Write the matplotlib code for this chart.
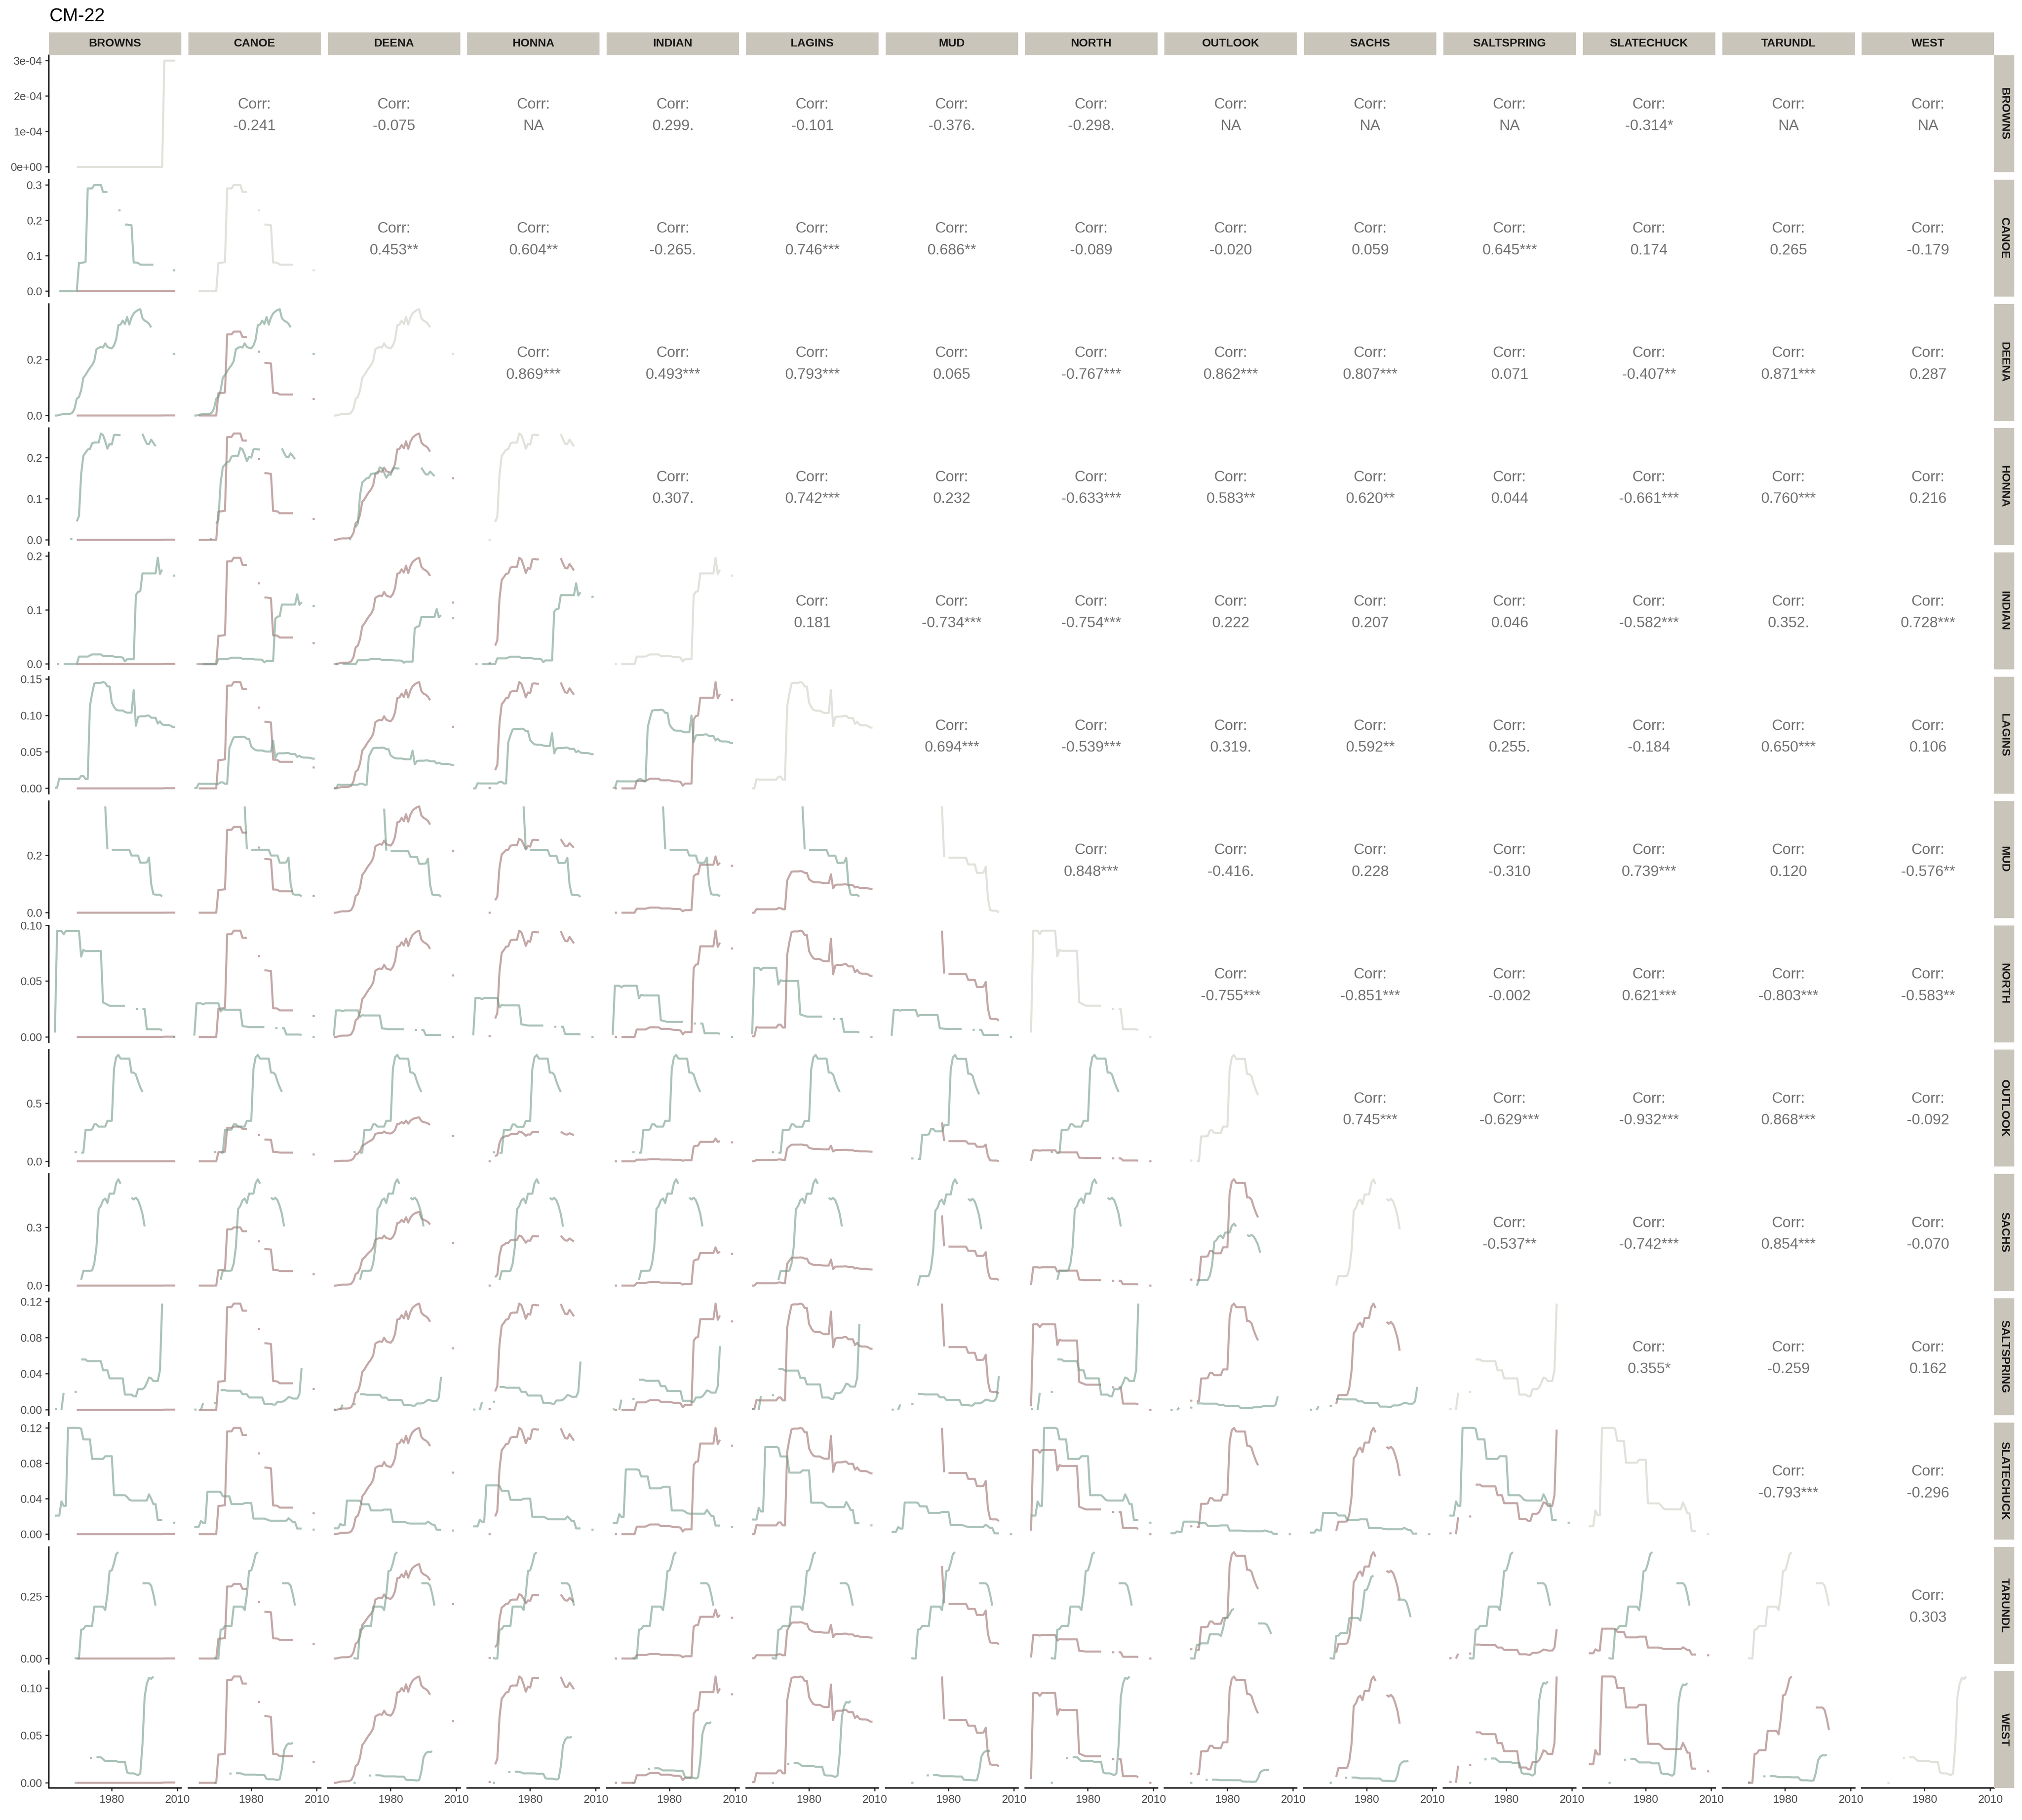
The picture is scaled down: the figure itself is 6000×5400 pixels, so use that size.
import numpy as np
import matplotlib
matplotlib.use("Agg")
import matplotlib.pyplot as plt
from matplotlib.patches import Rectangle

plt.rcParams['font.family'] = ['Liberation Sans', 'DejaVu Sans']

nan = np.nan
years = list(range(1954, 2010))
names = ["BROWNS", "CANOE", "DEENA", "HONNA", "INDIAN", "LAGINS", "MUD", "NORTH",
         "OUTLOOK", "SACHS", "SALTSPRING", "SLATECHUCK", "TARUNDL", "WEST"]

BROWNS = [nan, nan, nan, nan, nan, nan, nan, nan, nan, nan,
          0, 0, 0, 0, 0, 0, 0, 0, 0, 0,
          0, 0, 0, 0, 0, 0, 0, 0, 0, 0,
          0, 0, 0, 0, 0, 0, 0, 0, 0, 0,
          0, 0, 0, 0, 0, 0, 0, 0, 0, 0,
          3e-4, 3e-4, 3e-4, 3e-4, 3e-4, 3e-4]
CANOE = [nan, nan, 0, 0, 0, 0, 0, 0, 0, 0,
         0, 0.08, 0.08, 0.081, 0.082, 0.29, 0.29, 0.29, 0.30, 0.30,
         0.30, 0.30, 0.28, 0.28, 0.28, nan, nan, nan, nan, 0.228,
         0.228, nan, 0.188, 0.188, 0.187, 0.186, 0.081, 0.081, 0.08, 0.075,
         0.075, 0.075, 0.075, 0.075, 0.075, 0.075, nan, nan, nan, nan,
         nan, nan, nan, nan, 0.059, 0.059]
DEENA = [0.0, 0.0, 0.002, 0.004, 0.005, 0.005, 0.005, 0.006, 0.01, 0.025,
         0.06, 0.066, 0.09, 0.135, 0.145, 0.158, 0.17, 0.18, 0.195, 0.237,
         0.242, 0.245, 0.243, 0.258, 0.245, 0.242, 0.24, 0.25, 0.272, 0.323,
         0.325, 0.339, 0.327, 0.352, 0.325, 0.35, 0.365, 0.372, 0.377, 0.38,
         0.348, 0.339, 0.335, 0.328, 0.315, nan, nan, nan, nan, nan,
         nan, nan, nan, nan, 0.22, 0.22]
HONNA = [nan, nan, nan, nan, nan, nan, nan, 0.002, 0.002, nan,
         0.045, 0.058, 0.16, 0.205, 0.212, 0.22, 0.221, 0.235, 0.237, 0.237,
         0.237, 0.259, 0.255, 0.24, 0.222, 0.234, 0.232, 0.255, 0.256, 0.255,
         0.255, nan, nan, nan, nan, nan, nan, nan, nan, nan,
         0.258, 0.245, 0.234, 0.233, 0.244, 0.236, 0.228, nan, nan, nan,
         nan, nan, nan, nan, nan, nan]
INDIAN = [nan, 0.0, 0.0, nan, 0.0, 0.0, 0.0, 0.0, 0.0, 0.0,
          0.0, 0.014, 0.014, 0.014, 0.014, 0.014, 0.016, 0.018, 0.018, 0.018,
          0.018, 0.018, 0.015, 0.015, 0.015, 0.015, 0.015, 0.014, 0.013, 0.013,
          0.013, 0.012, 0.005, 0.009, 0.009, 0.009, 0.009, 0.128, 0.134, 0.135,
          0.168, 0.168, 0.168, 0.168, 0.168, 0.168, 0.168, 0.197, 0.167, 0.175,
          nan, nan, nan, nan, 0.164, 0.164]
LAGINS = [0.001, 0.001, 0.0136, 0.013, 0.013, 0.013, 0.013, 0.013, 0.013, 0.013,
          0.013, 0.013, 0.017, 0.017, 0.013, 0.013, 0.113, 0.13, 0.144, 0.145,
          0.145, 0.145, 0.146, 0.145, 0.14, 0.14, 0.118, 0.112, 0.108, 0.107,
          0.107, 0.107, 0.105, 0.104, 0.104, 0.104, 0.135, 0.086, 0.098, 0.099,
          0.099, 0.099, 0.1, 0.1, 0.097, 0.097, 0.097, 0.089, 0.092, 0.088,
          0.087, 0.087, 0.087, 0.086, 0.084, 0.084]
MUD = [nan, nan, nan, nan, nan, nan, nan, nan, nan, nan,
       nan, nan, nan, nan, nan, nan, nan, nan, nan, nan,
       nan, nan, nan, 0.372, 0.222, nan, 0.22, 0.22, 0.22, 0.22,
       0.22, 0.22, 0.22, 0.22, 0.22, 0.2, 0.2, 0.2, 0.2, 0.175,
       0.175, 0.175, 0.176, 0.193, 0.1, 0.065, 0.063, 0.063, 0.063, 0.057,
       nan, nan, nan, nan, nan, nan]
NORTH = [0.004, 0.095, 0.095, 0.095, 0.092, 0.095, 0.095, 0.095, 0.095, 0.095,
         0.095, 0.095, 0.072, 0.078, 0.077, 0.077, 0.077, 0.077, 0.077, 0.077,
         0.077, 0.077, 0.031, 0.030, 0.029, 0.028, 0.028, 0.028, 0.028, 0.028,
         0.028, 0.028, 0.028, nan, nan, nan, nan, 0.025, 0.025, nan,
         0.025, 0.025, 0.007, 0.007, 0.007, 0.007, 0.007, 0.007, 0.007, 0.006,
         nan, nan, nan, nan, 0.0, 0.0]
OUTLOOK = [nan, nan, nan, nan, nan, nan, nan, nan, nan, 0.08,
           0.08, nan, 0.074, 0.075, 0.272, 0.272, 0.272, 0.275, 0.32, 0.32,
           0.3, 0.3, 0.3, 0.3, 0.35, 0.35, 0.35, 0.80, 0.9, 0.919,
           0.888, 0.888, 0.888, 0.888, 0.888, 0.767, 0.767, 0.75, 0.69, 0.64,
           0.6, nan, nan, nan, nan, nan, nan, nan, nan, nan,
           nan, nan, nan, nan, nan, nan]
SACHS = [nan, nan, nan, nan, nan, nan, nan, nan, nan, nan,
         nan, nan, 0.03, 0.076, 0.076, 0.076, 0.076, 0.078, 0.114, 0.2,
         0.395, 0.41, 0.44, 0.449, 0.426, 0.474, 0.474, 0.474, 0.528, 0.548,
         0.525, nan, nan, nan, nan, 0.453, 0.444, 0.453, 0.44, 0.41,
         0.37, 0.305, nan, nan, nan, nan, nan, nan, nan, nan,
         nan, nan, nan, nan, nan, nan]
SALTSPRING = [0.001, 0.001, nan, 0.0, 0.019, nan, nan, nan, nan, 0.02,
              0.02, nan, 0.056, 0.056, 0.056, 0.054, 0.054, 0.054, 0.054, 0.054,
              0.054, 0.054, 0.044, 0.044, 0.044, 0.035, 0.035, 0.035, 0.035, 0.035,
              0.035, 0.035, 0.017, 0.017, 0.017, 0.017, 0.015, 0.015, 0.023, 0.023,
              0.023, 0.025, 0.03, 0.036, 0.035, 0.032, 0.032, 0.032, 0.044, 0.118,
              nan, nan, nan, nan, nan, nan]
SLATECHUCK = [0.021, 0.021, 0.021, 0.037, 0.032, 0.032, 0.12, 0.12, 0.12, 0.12,
              0.12, 0.12, 0.119, 0.107, 0.107, 0.107, 0.107, 0.085, 0.085, 0.085,
              0.085, 0.085, 0.085, 0.088, 0.088, 0.088, 0.088, 0.044, 0.044, 0.044,
              0.044, 0.044, 0.044, 0.042, 0.039, 0.038, 0.038, 0.038, 0.038, 0.038,
              0.038, 0.038, 0.038, 0.045, 0.04, 0.034, 0.034, 0.016, 0.016, 0.016,
              nan, nan, nan, nan, 0.013, 0.013]
TARUNDL = [nan, nan, nan, nan, nan, nan, nan, nan, nan, 0.002,
           0.0, 0.0, 0.116, 0.118, 0.131, 0.131, 0.131, 0.131, 0.209, 0.209,
           0.209, 0.209, 0.209, 0.195, 0.258, 0.352, 0.355, 0.383, 0.42, 0.428,
           nan, nan, nan, nan, nan, nan, nan, nan, nan, nan,
           0.303, 0.303, 0.303, 0.303, 0.293, 0.258, 0.213, nan, nan, nan,
           nan, nan, nan, nan, nan, nan]
WEST = [nan, nan, nan, nan, nan, nan, nan, nan, nan, 0.0,
        0.0, nan, nan, nan, nan, nan, 0.026, 0.026, nan, 0.027,
        0.027, 0.027, 0.025, 0.023, 0.023, 0.023, 0.023, 0.023, 0.023, 0.022,
        0.022, 0.022, 0.022, 0.011, 0.010, 0.010, 0.010, 0.009, 0.008, 0.01,
        0.04, 0.091, 0.105, 0.111, 0.11, 0.1125, nan, nan, nan, nan,
        nan, nan, nan, nan, nan, nan]

series_list = [BROWNS, CANOE, DEENA, HONNA, INDIAN, LAGINS, MUD, NORTH,
               OUTLOOK, SACHS, SALTSPRING, SLATECHUCK, TARUNDL, WEST]

# correlation labels, upper triangle (row i, columns i+1 .. 13)
corr_rows = [
    ["-0.241", "-0.075", "NA", "0.299.", "-0.101", "-0.376.", "-0.298.", "NA", "NA", "NA", "-0.314*", "NA", "NA"],
    ["0.453**", "0.604**", "-0.265.", "0.746***", "0.686**", "-0.089", "-0.020", "0.059", "0.645***", "0.174", "0.265", "-0.179"],
    ["0.869***", "0.493***", "0.793***", "0.065", "-0.767***", "0.862***", "0.807***", "0.071", "-0.407**", "0.871***", "0.287"],
    ["0.307.", "0.742***", "0.232", "-0.633***", "0.583**", "0.620**", "0.044", "-0.661***", "0.760***", "0.216"],
    ["0.181", "-0.734***", "-0.754***", "0.222", "0.207", "0.046", "-0.582***", "0.352.", "0.728***"],
    ["0.694***", "-0.539***", "0.319.", "0.592**", "0.255.", "-0.184", "0.650***", "0.106"],
    ["0.848***", "-0.416.", "0.228", "-0.310", "0.739***", "0.120", "-0.576**"],
    ["-0.755***", "-0.851***", "-0.002", "0.621***", "-0.803***", "-0.583**"],
    ["0.745***", "-0.629***", "-0.932***", "0.868***", "-0.092"],
    ["-0.537**", "-0.742***", "0.854***", "-0.070"],
    ["0.355*", "-0.259", "0.162"],
    ["-0.793***", "-0.296"],
    ["0.303"],
]

ytick_values = [[0, 1e-4, 2e-4, 3e-4], [0, 0.1, 0.2, 0.3], [0, 0.2], [0, 0.1, 0.2],
                [0, 0.1, 0.2], [0, 0.05, 0.10, 0.15], [0, 0.2], [0, 0.05, 0.10],
                [0, 0.5], [0, 0.3], [0, 0.04, 0.08, 0.12], [0, 0.04, 0.08, 0.12],
                [0, 0.25], [0, 0.05, 0.10]]
ytick_labels = [["0e+00", "1e-04", "2e-04", "3e-04"], ["0.0", "0.1", "0.2", "0.3"], ["0.0", "0.2"],
                ["0.0", "0.1", "0.2"], ["0.0", "0.1", "0.2"], ["0.00", "0.05", "0.10", "0.15"],
                ["0.0", "0.2"], ["0.00", "0.05", "0.10"], ["0.0", "0.5"], ["0.0", "0.3"],
                ["0.00", "0.04", "0.08", "0.12"], ["0.00", "0.04", "0.08", "0.12"],
                ["0.00", "0.25"], ["0.00", "0.05", "0.10"]]
xtick_values = [1980, 2010]
xtick_labels = ["1980", "2010"]

# ---------------- styling ----------------
COL_ROW = '#739B8A'
COL_COL = '#9E6E6E'
COL_DIAG = '#E2E1DB'
STRIP = '#C9C5BA'
TXT_CORR = '#737373'
LW = 1.45

FW, FH = 6000, 5400
L0, PW, PX = 145.0, 393.0, 413.8
T0, PH, PY = 164.0, 347.0, 368.8
n = len(names)

fig = plt.figure(figsize=(20, 18), dpi=300)
yr = np.array(years, dtype=float)
data = [np.array(s, dtype=float) for s in series_list]


def rng(*arrs):
    v = np.concatenate([a[~np.isnan(a)] for a in arrs])
    lo, hi = v.min(), v.max()
    pad = (hi - lo) * 0.05
    return lo - pad, hi + pad


xlo = min(years) - (max(years) - min(years)) * 0.05
xhi = max(years) + (max(years) - min(years)) * 0.05

for i in range(n):
    for j in range(n):
        x0 = L0 + j * PX
        y0 = T0 + i * PY
        ax = fig.add_axes([x0 / FW, 1 - (y0 + PH) / FH, PW / FW, PH / FH])
        ax.set_xlim(xlo, xhi)
        for s in ax.spines.values():
            s.set_visible(False)
        ax.patch.set_alpha(0)
        if i == j:
            ax.plot(yr, data[i], color=COL_DIAG, lw=LW, solid_capstyle='butt',
                    solid_joinstyle='round')
            ax.set_ylim(*rng(data[i]))
        elif i > j:
            ax.plot(yr, data[j], color=COL_COL, lw=LW, alpha=0.6,
                    solid_capstyle='butt', solid_joinstyle='round')
            ax.plot(yr, data[i], color=COL_ROW, lw=LW, alpha=0.6,
                    solid_capstyle='butt', solid_joinstyle='round')
            ax.set_ylim(*rng(data[i], data[j]))
        else:
            lab = corr_rows[i][j - i - 1]
            ax.set_ylim(0, 1)
            ax.text(0.5, 0.546, "Corr:", ha='center', va='baseline',
                    fontsize=10.7, color=TXT_CORR, transform=ax.transAxes)
            ax.text(0.5, 0.36, lab, ha='center', va='baseline',
                    fontsize=10.7, color=TXT_CORR, transform=ax.transAxes)
        # axes
        if j == 0:
            ax.spines['left'].set_visible(True)
            ax.spines['left'].set_linewidth(0.95)
            ax.spines['left'].set_color('black')
            ax.set_yticks(ytick_values[i])
            ax.set_yticklabels(ytick_labels[i])
            ax.tick_params(axis='y', length=2.5, width=0.85, color='#333333',
                           labelsize=8, labelcolor='#4D4D4D', pad=2.2)
        else:
            ax.set_yticks([])
        if i == n - 1:
            ax.spines['bottom'].set_visible(True)
            ax.spines['bottom'].set_linewidth(0.95)
            ax.spines['bottom'].set_color('black')
            ax.set_xticks(xtick_values)
            ax.set_xticklabels(xtick_labels)
            ax.tick_params(axis='x', length=2.5, width=0.85, color='#333333',
                           labelsize=8, labelcolor='#4D4D4D', pad=2.2)
        else:
            ax.set_xticks([])

# top strips
for j in range(n):
    x0 = L0 + j * PX
    fig.add_artist(Rectangle((x0 / FW, 1 - 164 / FH), PW / FW, 68 / FH,
                             transform=fig.transFigure, facecolor=STRIP,
                             edgecolor='none'))
    fig.text((x0 + PW / 2) / FW, 1 - 130 / FH, names[j], ha='center', va='center',
             fontsize=8.2, fontweight='bold', color='#1A1A1A')

# right strips
RX = L0 + (n - 1) * PX + PW
for i in range(n):
    y0 = T0 + i * PY
    fig.add_artist(Rectangle((RX / FW, 1 - (y0 + PH) / FH), 60 / FW, PH / FH,
                             transform=fig.transFigure, facecolor=STRIP,
                             edgecolor='none'))
    fig.text((RX + 30) / FW, 1 - (y0 + PH / 2) / FH, names[i], ha='center',
             va='center', rotation=-90, fontsize=8.2, fontweight='bold',
             color='#1A1A1A')

fig.text(146 / FW, 1 - 64 / FH, "CM-22", ha='left', va='baseline',
         fontsize=13.2, color='black')

fig.savefig("out.png", dpi=300, facecolor='white')
